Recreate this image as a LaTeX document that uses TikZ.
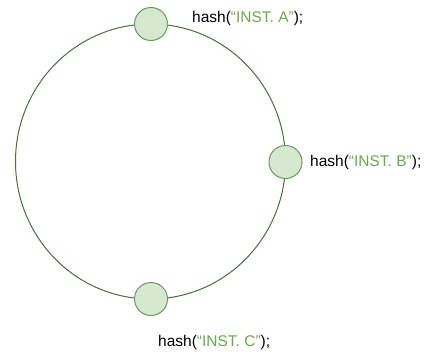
\documentclass[tikz,border=0pt]{standalone}
\usepackage{fontspec}
\setmainfont{Liberation Sans}
\definecolor{ringline}{RGB}{72,112,58}
\definecolor{nodeline}{RGB}{110,150,95}
\definecolor{nodefill}{RGB}{214,232,208}
\definecolor{strgreen}{RGB}{106,168,79}
\begin{document}
\begin{tikzpicture}[x=1pt,y=1pt,
  inst/.style={circle,draw=nodeline,fill=nodefill,line width=1pt,minimum size=33pt,inner sep=0pt},
  lbl/.style={anchor=west,inner sep=0pt,font=\fontsize{15.5}{17}\selectfont},
  ring/.style={draw=ringline,line width=1pt}]
\useasboundingbox (0,0) rectangle (428,-354);
\coordinate (ctr) at (150.5,-161.5);
\draw[ring] (ctr) ellipse [x radius=135, y radius=137.5];
\node[inst] (a) at (151,-24) {};
\node[inst] (b) at (285.5,-162) {};
\node[inst] (c) at (151,-299) {};
\node[lbl] (la) at (192,-18) {hash(\textcolor{strgreen}{“INST. A”});};
\node[lbl] (lb) at (310,-162) {hash(\textcolor{strgreen}{“INST. B”});};
\node[lbl] (lc) at (158,-342) {hash(\textcolor{strgreen}{“INST. C”});};
\end{tikzpicture}
\end{document}
